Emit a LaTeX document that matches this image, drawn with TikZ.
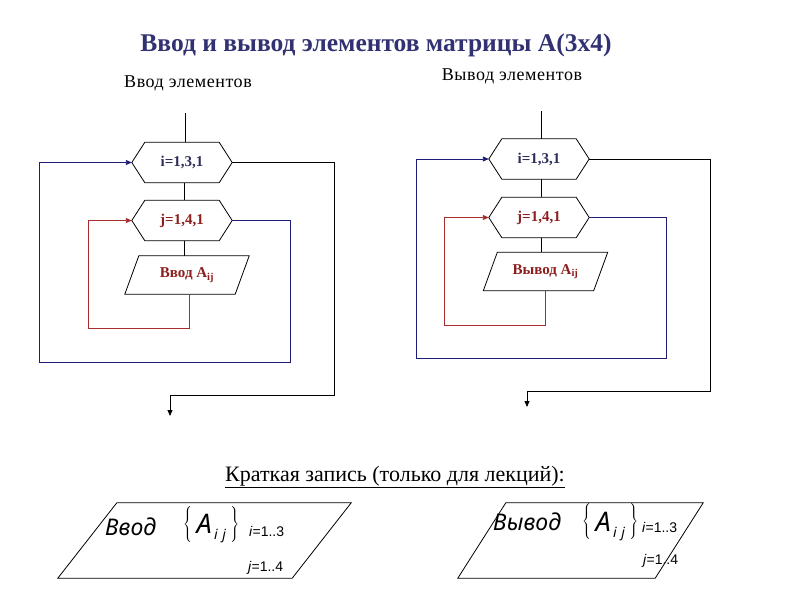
\documentclass[tikz,border=0pt]{standalone}
\usepackage{fontspec}
\setmainfont{Liberation Serif}
\newfontfamily\itsans{Noto Sans}
\newfontfamily\spaced[LetterSpace=3]{Liberation Serif}
\newfontfamily\rngfont{Liberation Sans}
\usetikzlibrary{arrows.meta,calc}
\definecolor{navyline}{RGB}{30,30,120}
\definecolor{redline}{RGB}{165,45,45}
\definecolor{titlecol}{RGB}{50,50,115}
\definecolor{hextxt}{RGB}{45,45,90}
\definecolor{redtxt}{RGB}{140,30,30}
\tikzset{
  hexbox/.style={minimum width=100pt,minimum height=40pt,inner sep=0pt,font=\fontsize{15}{15}\selectfont\bfseries},
  parabox/.style={minimum width=110pt,minimum height=38pt,inner sep=0pt,font=\fontsize{15}{15}\selectfont\bfseries,text=redtxt},
  bigpara/.style={minimum height=75pt,inner sep=0pt},
  blk/.style={draw=black,line width=0.8pt},
  nav/.style={draw=navyline,line width=0.9pt},
  rdl/.style={draw=redline,line width=0.9pt},
  tip/.style={-{Triangle[length=6pt,width=5pt]}},
  lbl/.style={inner sep=0pt,font=\spaced\fontsize{18}{18}\selectfont},
  rng/.style={anchor=base west,inner sep=0pt,font=\rngfont\fontsize{14}{14}\selectfont},
  bigit/.style={inner sep=0pt,font=\itsans\fontsize{23}{23}\selectfont\itshape},
}
\newcommand\hexdraw[1]{\draw[blk] (#1.west) -- ([xshift=13pt]#1.north west) -- ([xshift=-13pt]#1.north east) -- (#1.east) -- ([xshift=-13pt]#1.south east) -- ([xshift=13pt]#1.south west) -- cycle;}
\newcommand\paradraw[2]{\draw[blk] ([xshift=#2]#1.north west) -- ([xshift=#2]#1.north east) -- ([xshift=-#2]#1.south east) -- ([xshift=-#2]#1.south west) -- cycle;}
\newcommand\aset{$\left\{\vcenter{\hbox{\rule[-9pt]{0pt}{38pt}\fontsize{27}{27}\selectfont\itshape\,A\raisebox{-6pt}{\fontsize{14}{14}\selectfont\,i\,\,j}\,}}\right\}$}
\begin{document}
\begin{tikzpicture}[x=1pt,y=-1pt]
\useasboundingbox (0,0) rectangle (800,600);
% titles
\node[inner sep=0pt,font=\fontsize{25.5}{25.5}\selectfont\bfseries,text=titlecol] (title) at (376,45) {Ввод и вывод элементов матрицы А(3х4)};
\node[lbl] (lin) at (188,83) {Ввод элементов};
\node[lbl] (lout) at (512,76) {Вывод элементов};

% ---------- left flowchart
\node[hexbox,text=hextxt] (i1) at (182,162.5) {i=1,3,1};
\node[hexbox,text=redtxt] (j1) at (182,220.5) {j=1,4,1};
\node[parabox] (p1) at (187,275) {Ввод A\textsubscript{ij}};
\hexdraw{i1}
\hexdraw{j1}
\paradraw{p1}{7pt}
\coordinate (ltop) at (185,113);
\draw[blk] (ltop) -- (ltop |- i1.north);
\draw[blk] ([xshift=2pt]i1.south) -- ([xshift=2pt]j1.north);
\draw[blk] ([xshift=2pt]j1.south) -- ([xshift=2pt]j1.south |- p1.north);
\coordinate (lr1) at (88,328);
\draw[rdl,tip] ([xshift=2pt]p1.south) |- (lr1) |- (j1.west);
\coordinate (lb1) at (290,362);
\coordinate (lb2) at (39,362);
\draw[nav,tip] (j1.east) -| (lb1) -- (lb2) |- (i1.west);
\coordinate (lk1) at (334,395);
\coordinate (lk2) at (170,395);
\coordinate (lend) at (170,416);
\draw[blk,tip] (i1.east) -| (lk1) -- (lk2) -- (lend);

% ---------- right flowchart
\node[hexbox,text=hextxt] (i2) at (539,159) {i=1,3,1};
\node[hexbox,text=redtxt] (j2) at (539,217.5) {j=1,4,1};
\node[parabox] (p2) at (545.5,271.5) {Вывод A\textsubscript{ij}};
\hexdraw{i2}
\hexdraw{j2}
\paradraw{p2}{7pt}
\coordinate (rtop) at (541,111);
\draw[blk] (rtop) -- (rtop |- i2.north);
\draw[blk] ([xshift=2pt]i2.south) -- ([xshift=2pt]j2.north);
\draw[blk] ([xshift=2pt]j2.south) -- ([xshift=2pt]j2.south |- p2.north);
\coordinate (rr1) at (444,325);
\draw[rdl,tip] (p2.south) |- (rr1) |- (j2.west);
\coordinate (rb1) at (666,358);
\coordinate (rb2) at (416,358);
\draw[nav,tip] (j2.east) -| (rb1) -- (rb2) |- (i2.west);
\coordinate (rk1) at (710,391);
\coordinate (rk2) at (527,391);
\coordinate (rend) at (527,407);
\draw[blk,tip] (i2.east) -| (rk1) -- (rk2) -- (rend);

% ---------- short notation
\node[inner sep=0pt,font=\fontsize{22}{22}\selectfont] (short) at (395,477) {\underline{Краткая запись (только для лекций):}};

\node[bigpara,minimum width=234pt] (q1) at (204.5,540.5) {};
\paradraw{q1}{29.5pt}
\node[bigpara,minimum width=197pt] (q2) at (580.5,540.5) {};
\paradraw{q2}{24pt}

\node[bigit,anchor=base west] (w1) at (105,535) {Ввод};
\node[bigit,anchor=west] (a1) at (183,524) {\aset};
\node[rng] (ri1) at (249,536) {\textit{i}=1..3};
\node[rng] (rj1) at (248,571) {\textit{j}=1..4};

\node[bigit,anchor=base west] (w2) at (493,530) {Вывод};
\node[bigit,anchor=west] (a2) at (582,521.5) {\aset};
\node[rng] (ri2) at (642,532) {\textit{i}=1..3};
\node[rng] (rj2) at (643,564) {\textit{j}=1..4};
\end{tikzpicture}
\end{document}
